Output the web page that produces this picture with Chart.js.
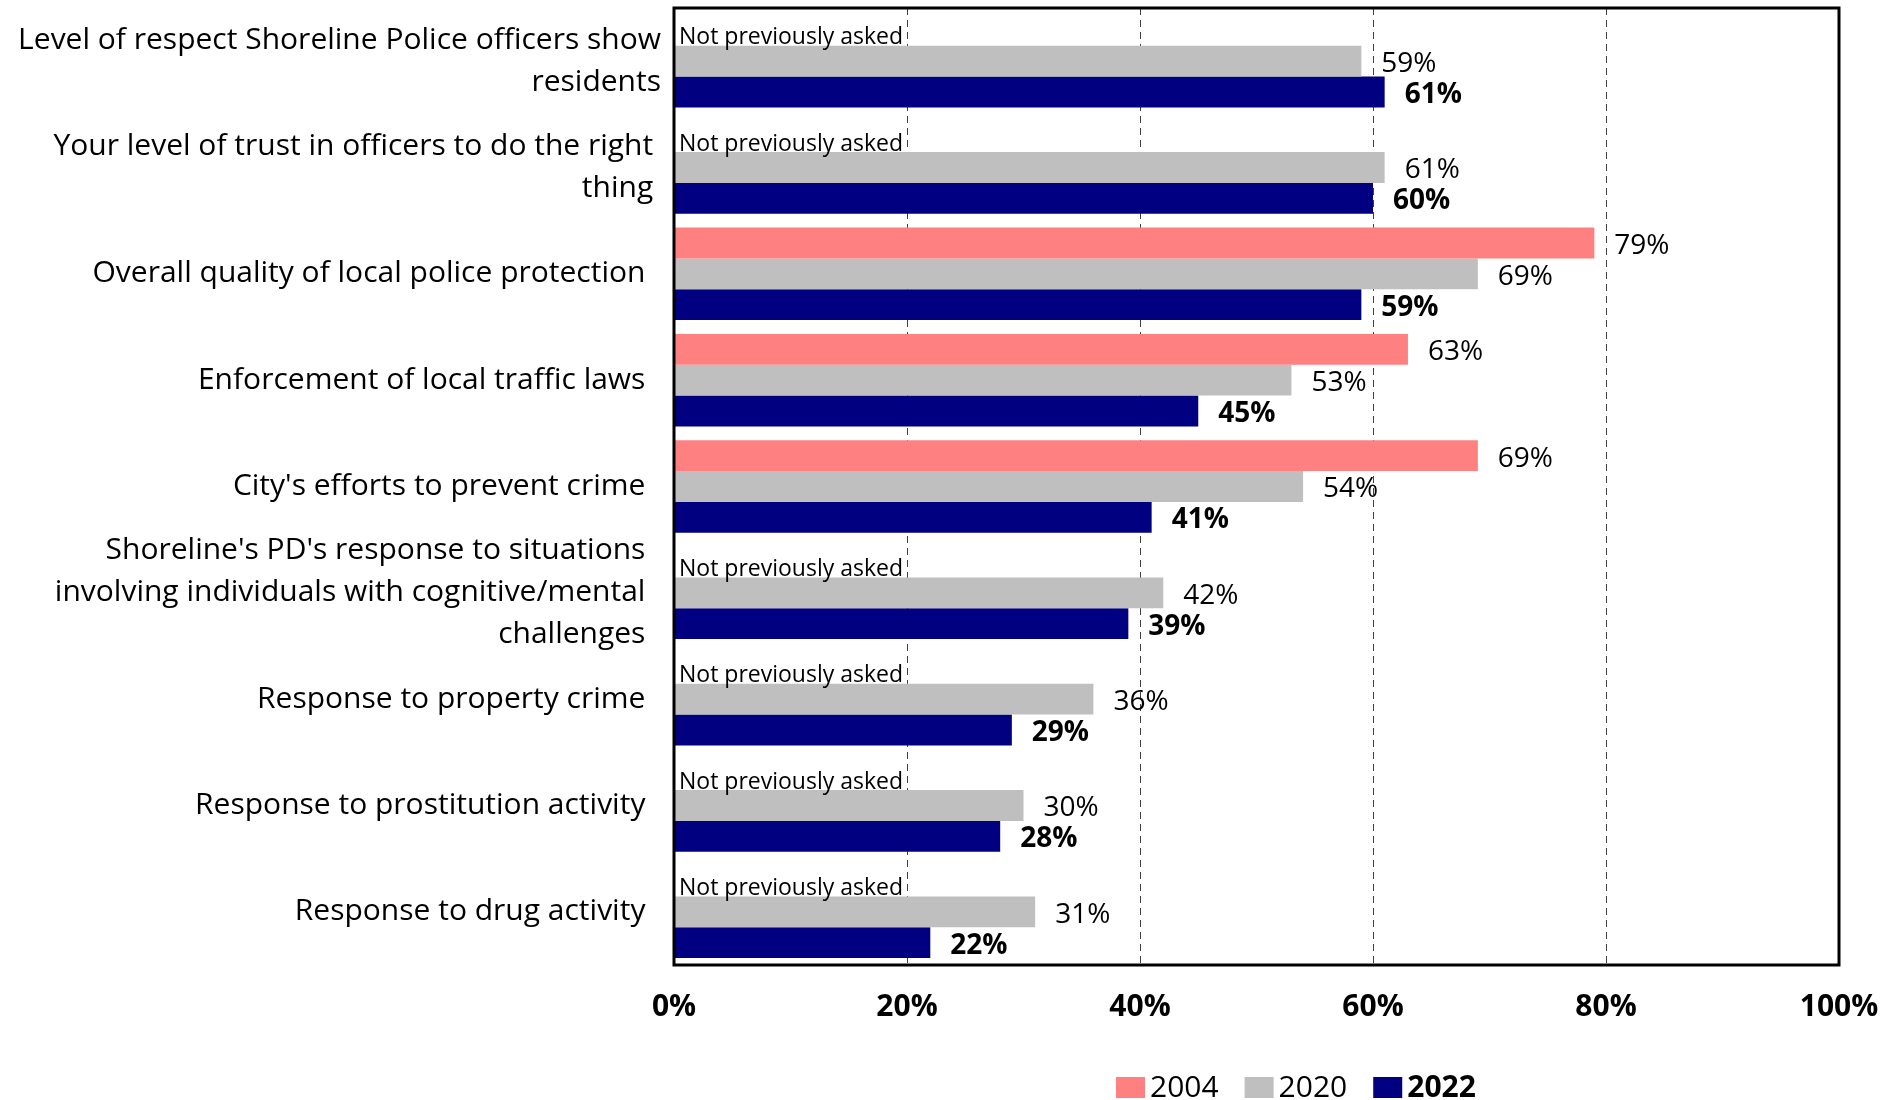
<!DOCTYPE html>
<html><head><meta charset="utf-8">
<script src="https://cdn.jsdelivr.net/npm/chart.js@4/dist/chart.umd.min.js"></script>
<style>html,body{margin:0;padding:0;background:#fff;} #wrap{width:1902px;height:1100px;position:relative;}</style>
</head><body><div id="wrap"><canvas id="c" width="1902" height="1100"></canvas></div>
<script>
const categories = [
  ['Level of respect Shoreline Police officers show', 'residents'],
  ['Your level of trust in officers to do the right ', 'thing '],
  'Overall quality of local police protection  ',
  'Enforcement of local traffic laws  ',
  "City's efforts to prevent crime  ",
  ["Shoreline's PD's response to situations  ", 'involving individuals with cognitive/mental  ', 'challenges  '],
  'Response to property crime  ',
  'Response to prostitution activity  ',
  'Response to drug activity  '
];
const seriesNames = ['2004', '2020', '2022'];
const seriesColors = ['#FF8080', '#BFBFBF', '#000080'];
const values2004 = [null, null, 79, 63, 69, null, null, null, null];
const values2020 = [59, 61, 69, 53, 54, 42, 36, 30, 31];
const values2022 = [61, 60, 59, 45, 41, 39, 29, 28, 22];
const xTicks = [0, 20, 40, 60, 80, 100];
const notAskedText = 'Not previously asked';

const FONT = '"Open Sans", "Noto Sans", sans-serif';

const framePlugin = {
  id: 'frame',
  afterDatasetsDraw(chart) {
    const {ctx, chartArea: a} = chart;
    ctx.save();
    ctx.strokeStyle = '#000';
    ctx.lineWidth = 3;
    ctx.strokeRect(a.left, a.top, a.right - a.left, a.bottom - a.top);
    ctx.restore();
  }
};

const valueLabelPlugin = {
  id: 'valueLabels',
  afterDatasetsDraw(chart) {
    const {ctx} = chart;
    const xs = chart.scales.x;
    chart.data.datasets.forEach((ds, di) => {
      const meta = chart.getDatasetMeta(di);
      meta.data.forEach((bar, i) => {
        const v = ds.data[i];
        ctx.save();
        ctx.fillStyle = '#000';
        ctx.textAlign = 'left';
        if (v === null || v === undefined) {
          ctx.font = '23px ' + FONT;
          ctx.textBaseline = 'alphabetic';
          ctx.fillText(notAskedText, xs.getPixelForValue(0) + 5, bar.y + 14);
        } else {
          ctx.font = (di === 2 ? 'bold ' : '') + '28px ' + FONT;
          ctx.textBaseline = 'middle';
          ctx.fillText(v + '%', bar.x + 20, bar.y + 3);
        }
        ctx.restore();
      });
    });
  }
};

const legendPlugin = {
  id: 'customLegend',
  afterDraw(chart) {
    const {ctx, chartArea: a} = chart;
    const y = a.bottom + 122;
    let x = a.left + 442;
    ctx.save();
    chart.data.datasets.forEach((ds, i) => {
      ctx.fillStyle = ds.backgroundColor;
      ctx.fillRect(x, y - 10, 29, 21);
      x += 29 + 5;
      ctx.font = (i === 2 ? 'bold ' : '') + '30px ' + FONT;
      ctx.fillStyle = '#000';
      ctx.textBaseline = 'middle';
      ctx.textAlign = 'left';
      ctx.fillText(ds.label, x, y + 1);
      x += ctx.measureText(ds.label).width + 26;
    });
    ctx.restore();
  }
};

const seriesValues = [values2004, values2020, values2022];

new Chart(document.getElementById('c'), {
  type: 'bar',
  data: {
    labels: categories,
    datasets: seriesNames.map((name, i) => ({
      label: name,
      data: seriesValues[i],
      backgroundColor: seriesColors[i],
      categoryPercentage: 0.87,
      barPercentage: 1.0
    }))
  },
  options: {
    indexAxis: 'y',
    responsive: false,
    animation: false,
    layout: {padding: {top: 8, right: 63, bottom: 0, left: 0}},
    plugins: {legend: {display: false}, tooltip: {enabled: false}},
    scales: {
      x: {
        min: 0, max: 100,
        afterBuildTicks: s => { s.ticks = xTicks.map(v => ({value: v})); },
        ticks: {
          callback: v => v + '%',
          font: {family: FONT, size: 30, weight: 'bold'},
          color: '#000', padding: 24, maxRotation: 0, autoSkip: false
        },
        grid: {
          color: c => (c.tick && (c.tick.value === 0 || c.tick.value === 100)) ? 'rgba(0,0,0,0)' : '#404040',
          lineWidth: 1, drawTicks: false
        },
        border: {display: false, dash: [7, 5]},
        afterFit: s => { s.height = 135; s.paddingLeft = 0; s.paddingRight = 0; }
      },
      y: {
        ticks: {font: {family: FONT, size: 30, lineHeight: 1.4}, color: '#000', padding: 13, autoSkip: false},
        grid: {display: false, drawTicks: false},
        border: {display: false},
        afterFit: s => { s.width = 674; s.paddingTop = 0; s.paddingBottom = 0; }
      }
    }
  },
  plugins: [framePlugin, valueLabelPlugin, legendPlugin]
});
</script>
</body></html>
